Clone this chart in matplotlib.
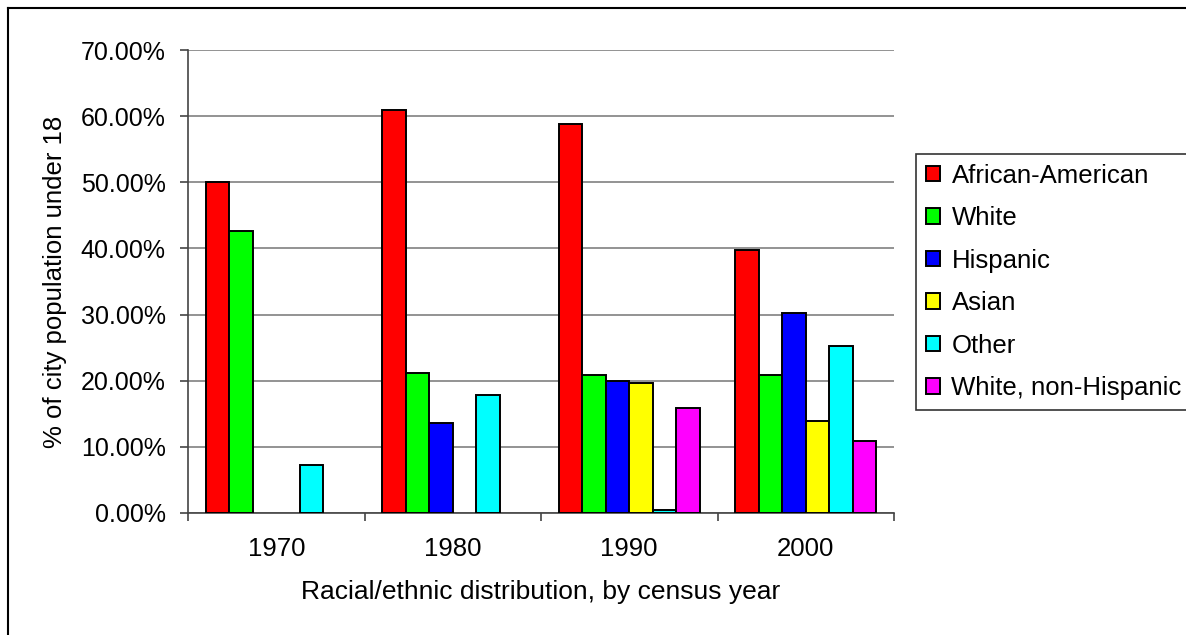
import numpy as np
import matplotlib
matplotlib.use('Agg')
import matplotlib.pyplot as plt
from matplotlib.lines import Line2D
from matplotlib.ticker import FixedLocator, FuncFormatter

plt.rcParams['font.family'] = ['Liberation Sans', 'DejaVu Sans']

years = ["1970", "1980", "1990", "2000"]
groups = ["African-American", "White", "Hispanic", "Asian", "Other",
          "White, non-Hispanic"]
african_american = [50.0, 60.9, 58.8, 39.7]
white = [42.7, 21.2, 20.9, 20.9]
hispanic = [np.nan, 13.6, 20.0, 30.3]
asian = [np.nan, np.nan, 19.7, 13.9]
other = [7.3, 17.9, 0.5, 25.2]
white_non_hispanic = [np.nan, np.nan, 15.8, 10.9]
colors = ["#FF0000", "#00FF00", "#0000FF", "#FFFF00", "#00FFFF", "#FF00FF"]

series = [african_american, white, hispanic, asian, other, white_non_hispanic]

fig = plt.figure(figsize=(11.86, 6.35), dpi=100)
ax = fig.add_axes([188 / 1186, 1 - 513 / 635, (894 - 188) / 1186, (513 - 50) / 635])

x = np.arange(len(years))
w = 0.8 / len(series)
for j, (vals, name, c) in enumerate(zip(series, groups, colors)):
    ax.bar(x - 0.4 + w * (j + 0.5), vals, width=w, color=c,
           edgecolor="black", linewidth=1.4, label=name, zorder=3)

ax.set_xlim(-0.5, 3.5)
ax.set_ylim(0, 70)
ax.set_yticks(np.arange(0, 71, 10))
ax.yaxis.set_major_formatter(FuncFormatter(lambda v, p: f"{v:.2f}%"))
ax.yaxis.grid(True, color="#808080", linewidth=1.2, zorder=0)
ax.set_axisbelow(True)

ax.set_xticks(x)
ax.set_xticklabels(years)
ax.xaxis.set_minor_locator(FixedLocator(np.arange(-0.5, 3.6, 1.0)))
ax.tick_params(axis="x", which="major", length=0, pad=17, labelsize=18.5)
ax.tick_params(axis="x", which="minor", length=6, width=1.2, color="#444444")
ax.tick_params(axis="y", length=6, width=1.2, color="#444444", pad=10,
               labelsize=18)

for s in ["top", "right"]:
    ax.spines[s].set_visible(False)
for s in ["left", "bottom"]:
    ax.spines[s].set_color("#444444")
    ax.spines[s].set_linewidth(1.2)

ax.set_xlabel("Racial/ethnic distribution, by census year", fontsize=19,
              labelpad=14)
ax.set_ylabel("% of city population under 18", fontsize=18.5, labelpad=10)

leg = fig.legend(loc="upper left", bbox_to_anchor=(916 / 1186, 1 - 154 / 635),
                 fontsize=18.5, frameon=True, fancybox=False, edgecolor="black",
                 handlelength=0.55, handleheight=0.55, handletextpad=0.45,
                 labelspacing=0.72, borderpad=0.38, borderaxespad=0)
leg.get_frame().set_linewidth(1.2)

# partial outer border of the original chart area
fig.add_artist(Line2D([8 / 1186, 8 / 1186], [0, 1 - 8 / 635], color="black",
                      linewidth=1.5, transform=fig.transFigure))
fig.add_artist(Line2D([8 / 1186, 1], [1 - 8 / 635, 1 - 8 / 635], color="black",
                      linewidth=1.5, transform=fig.transFigure))

fig.savefig("out.png", dpi=100)
